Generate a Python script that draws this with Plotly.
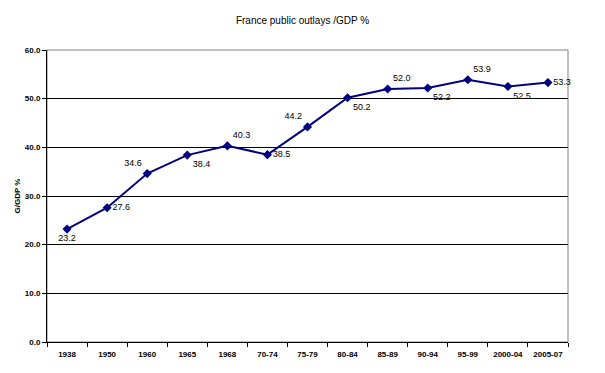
import plotly.graph_objects as go

categories = ["1938", "1950", "1960", "1965", "1968", "70-74", "75-79", "80-84",
              "85-89", "90-94", "95-99", "2000-04", "2005-07"]
values = [23.2, 27.6, 34.6, 38.4, 40.3, 38.5, 44.2, 50.2, 52.0, 52.2, 53.9, 52.5, 53.3]
label_pos = ["bottom center", "middle right", "top left", "bottom right", "top right",
             "middle right", "top left", "bottom right", "top right", "bottom right",
             "top right", "bottom right", "middle right"]

FONT = "Liberation Sans, Arial"

fig = go.Figure()
fig.add_trace(go.Scatter(
    x=categories, y=values, mode="lines+markers+text",
    line=dict(color="#000080", width=2),
    marker=dict(symbol="diamond", size=7, color="#000080"),
    text=[f"{v:.1f}" for v in values],
    textposition=label_pos,
    textfont=dict(family=FONT, size=9, color="#000000"),
    cliponaxis=False,
    showlegend=False,
))

fig.update_layout(
    width=605, height=373,
    margin=dict(l=47, r=37, t=50, b=31),
    paper_bgcolor="white", plot_bgcolor="white",
    title=dict(text="France public outlays /GDP %", x=0.5, xanchor="center",
               y=0.945, yanchor="middle",
               font=dict(family=FONT, size=10, color="#000000")),
    font=dict(family=FONT, size=8, color="#000000"),
)
fig.update_xaxes(
    type="category", tickson="boundaries", ticks="outside", ticklen=4,
    tickcolor="#000000", showline=True, linecolor="#000000", linewidth=1,
    mirror=False, showgrid=False, automargin=False, ticklabelstandoff=4,
    tickfont=dict(family=FONT, size=8, color="#000000", weight="bold"),
    range=[-0.5, 12.5],
)
fig.update_yaxes(
    range=[0, 60], dtick=10, tickformat=".1f", ticks="outside", ticklen=4,
    tickcolor="#000000", showline=True, linecolor="#000000", linewidth=1,
    showgrid=True, gridcolor="#000000", gridwidth=1, zeroline=False,
    automargin=False,
    title=dict(text="G/GDP %", font=dict(family=FONT, size=8, color="#000000", weight="bold"), standoff=3),
    tickfont=dict(family=FONT, size=8, color="#000000", weight="bold"),
)
# gray top/right frame
fig.add_shape(type="rect", xref="paper", yref="paper", x0=0, y0=0, x1=1, y1=1,
              line=dict(color="#808080", width=1), layer="below")

fig.write_html("out.html", config={"displayModeBar": False},
               post_script="document.body.style.margin='0';")
